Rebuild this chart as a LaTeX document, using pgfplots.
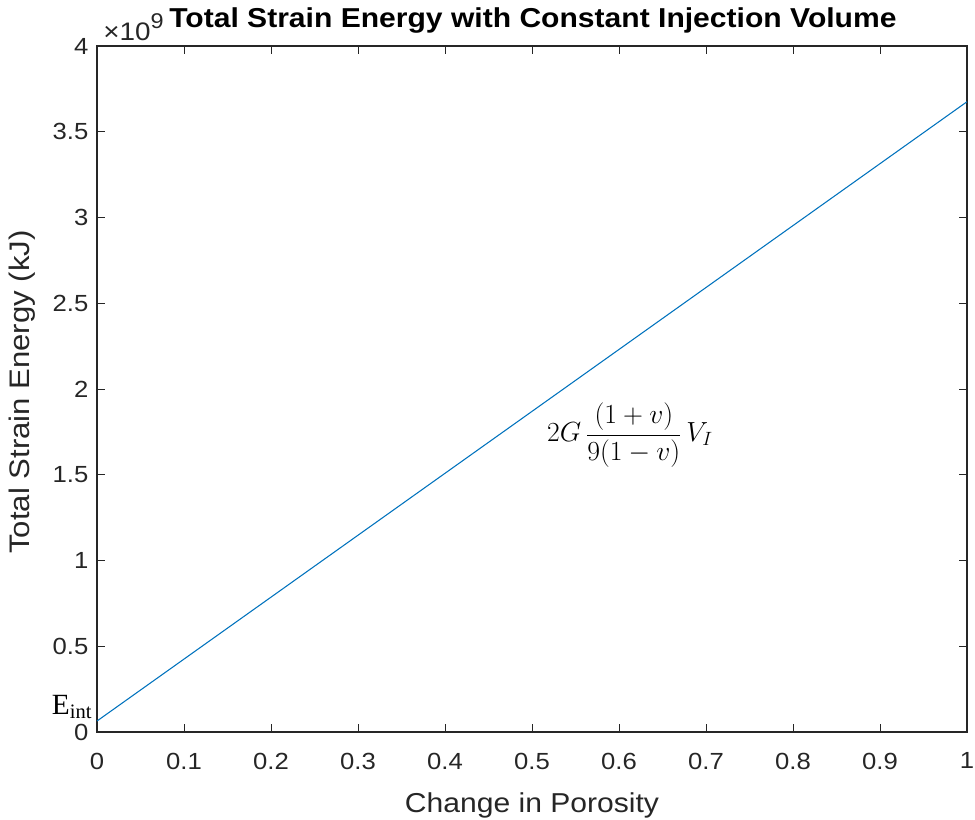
\documentclass[border=0pt]{standalone}
\usepackage{pgfplots}
\pgfplotsset{compat=1.18}
\usepackage{fontspec}
\setmainfont{Liberation Sans}[FakeStretch=1.1]
\newfontfamily\seriffont{Liberation Serif}
\definecolor{mblue}{rgb}{0,0.447,0.741}
\definecolor{axgray}{rgb}{0.15,0.15,0.15}
\begin{document}
\begin{tikzpicture}[x=1pt,y=1pt]
\useasboundingbox (-72.75,-66) rectangle (658.5,549);
\begin{axis}[at={(0,0)}, anchor=south west, scale only axis,
  width=652.5pt, height=514.5pt,
  xmin=0, xmax=1, ymin=0, ymax=4,
  xtick={0,0.1,0.2,0.3,0.4,0.5,0.6,0.7,0.8,0.9,1},
  ytick={0,0.5,1,1.5,2,2.5,3,3.5,4},
  scaled x ticks=false, scaled y ticks=false,
  tick align=inside, major tick length=6pt,
  axis line style={axgray, line width=0.8pt},
  tick style={axgray, line width=0.7pt},
  ticklabel style={font=\fontsize{17.5}{20}\selectfont, text=axgray},
  /pgf/number format/assume math mode=true,
  xticklabel style={yshift=-12pt},
  yticklabel style={xshift=-3pt},
  clip=false,
  xlabel={Change in Porosity},
  ylabel={Total Strain Energy (kJ)},
  label style={text=axgray, inner sep=0pt},
  xlabel style={font=\fontsize{20.5}{24}\selectfont, at={(axis description cs:0.5,-0.107)}, anchor=center},
  ylabel style={font=\fontsize{21.2}{24}\selectfont, at={(axis description cs:-0.0862,0.4956)}, anchor=center},
  title={\textbf{Total Strain Energy with Constant Injection Volume}},
  title style={font=\fontsize{20.5}{24}\selectfont, inner sep=0pt, at={(axis description cs:0.501,1.006)}, anchor=south},
]
\addplot[mblue, line width=0.8pt] coordinates {(0,0.064) (1,3.675)};
\node[font=\fontsize{19}{22}\selectfont, text=axgray, anchor=base west, inner sep=0pt] at (axis description cs:0.0069,1.0087) {×10\raisebox{9pt}{\fontsize{16}{18}\selectfont 9}};
\node[font=\fontsize{22.5}{26}\selectfont, anchor=center] at (axis cs:0.6126,1.732) {$\displaystyle 2G\,\frac{(1+v)}{9(1-v)}\,V_{I}$};
\node[font=\seriffont\fontsize{22}{26}\selectfont, anchor=center] at (axis description cs:-0.0287,0.036) {E\textsubscript{int}};
\end{axis}
\end{tikzpicture}
\end{document}
